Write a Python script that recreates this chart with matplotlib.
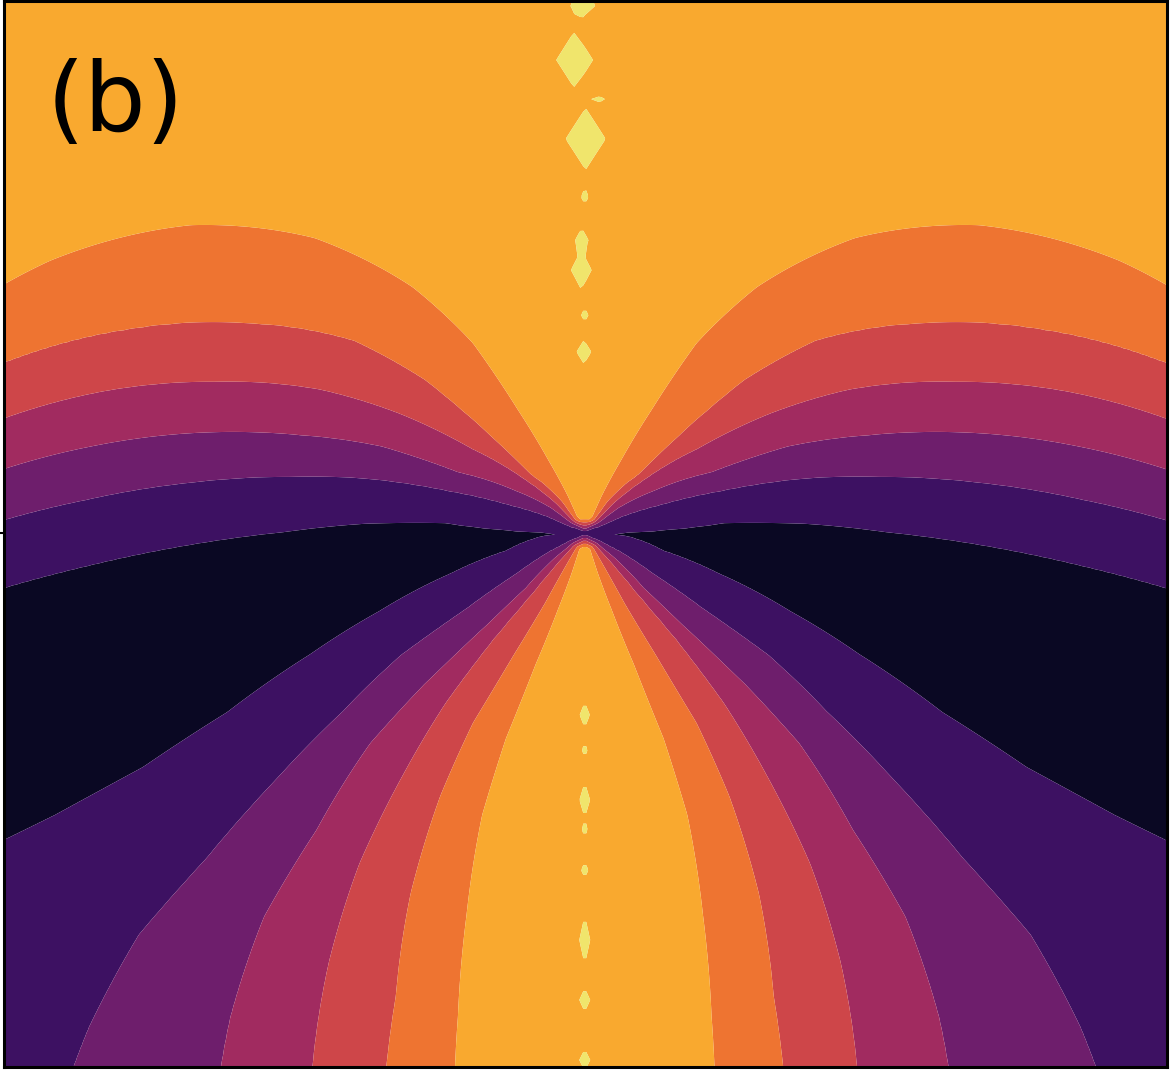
import numpy as np
import matplotlib
matplotlib.use("Agg")
import matplotlib.pyplot as plt

# ---------------- data ----------------
# radii (data units) at which the band-boundary angles were read
radii = [16, 40, 80, 140, 220, 300, 400, 500, 600, 700, 820]

# angle (deg, measured from the upward vertical) of each band boundary
# "vK" = boundary between band K-1 and band K
upper_v6 = [24.5, 24.5, 26.5, 28.5, 30.5, 35.0, 42.5, 52.0, 63.0, 75.0, 86.0]
upper_v5 = [36.0, 36.0, 43.0, 44.2, 46.2, 50.2, 58.4, 66.0, 73.3, 80.0, 88.0]
upper_v4 = [44.0, 44.0, 48.0, 53.2, 57.2, 61.5, 67.8, 73.5, 79.3, 84.0, 90.0]
upper_v3 = [53.0, 53.0, 58.5, 64.4, 66.9, 71.0, 75.5, 80.0, 84.4, 88.0, 92.0]
upper_v2 = [66.0, 66.0, 69.5, 72.7, 75.8, 79.2, 82.8, 86.2, 89.3, 92.0, 95.0]
upper_v1 = [92.0, 90.0, 88.2, 86.0, 87.6, 89.8, 91.8, 93.8, 95.7, 97.5, 99.0]
lower_v1 = [92.0, 93.5, 102.4, 106.7, 110.8, 113.8, 116.6, 117.9, 118.0, 117.7, 117.5]
lower_v2 = [118.0, 118.0, 120.8, 122.6, 123.6, 126.4, 128.7, 130.7, 132.0, 134.9, 139.0]
lower_v3 = [130.0, 130.0, 133.2, 133.2, 133.3, 134.4, 137.9, 140.1, 143.8, 148.0, 152.0]
lower_v4 = [138.0, 138.0, 139.0, 139.3, 140.7, 143.0, 145.7, 149.2, 153.0, 156.5, 160.0]
lower_v5 = [150.0, 150.0, 150.5, 149.8, 149.5, 151.2, 154.2, 157.8, 160.4, 163.0, 166.0]
lower_v6 = [162.0, 162.0, 160.7, 159.5, 159.0, 160.0, 162.8, 165.3, 167.4, 169.5, 172.0]

# value in the darkest band (between the two v1 boundaries) per radius
v_min = [1.0, 0.9, 0.4, 0.1, 0.0, 0.0, 0.0, 0.0, 0.0, 0.0, 0.0]
v_axis = 6.8      # value along the vertical axis
v_centre = 1.5    # value at the source point

# small bright patches along the vertical axis (centre x, centre y, half sizes)
blob_x = [-2, -11, 15, 1, 0, -3, -4, 0, -1, 0, 0, 0, 0, 0, 0, 0, 0]
blob_y = [528, 473, 434, 394, 336, 293, 263, 218, 181,
          -182, -217, -267, -297, -337, -407, -467, -527]
blob_w = [28, 40, 12, 46, 8, 14, 24, 8, 18, 12, 6, 12, 6, 8, 12, 12, 12]
blob_h = [24, 58, 6, 62, 14, 24, 40, 14, 24, 26, 16, 36, 14, 16, 50, 24, 22]
blob_amp = 0.4

levels = [0, 1, 2, 3, 4, 5, 6, 7, 8]
band_colors = ["#0a0823", "#3d1162", "#6e1e6c", "#a12b60",
               "#ce4649", "#ee7431", "#f9a92f", "#f0e56c"]
label = "(b)"

# ---------------- build the field ----------------
xg = np.linspace(-584, 584, 390)
yg = np.linspace(-536, 536, 358)
X, Y = np.meshgrid(xg, yg)
R = np.hypot(X, Y)
TH = np.degrees(np.arctan2(np.abs(X), Y))
Rc = np.clip(R, radii[0], radii[-1])

def at(row):
    return np.interp(Rc, radii, row)

u6, u5 = at(upper_v6), at(upper_v5)
l6, l5 = at(lower_v6), at(lower_v5)
up1 = at(upper_v1)
lo1 = at(lower_v1)
node_ang = [np.zeros_like(R), u6 - 0.5 * (u5 - u6), u6, u5, at(upper_v4),
            at(upper_v3), at(upper_v2), up1, 0.5 * (up1 + lo1), lo1,
            at(lower_v2), at(lower_v3), at(lower_v4), l5, l6,
            np.minimum(l6 + 0.5 * (l6 - l5), 179.0), np.full_like(R, 180.0)]
vm = at(v_min)
node_val = [v_axis, 6.5, 6, 5, 4, 3, 2, 1, vm, 1, 2, 3, 4, 5, 6, 6.5, v_axis]
node_val = [np.broadcast_to(np.asarray(v, float), R.shape) for v in node_val]

V = np.zeros_like(R)
for i in range(len(node_ang) - 1):
    a0, a1 = node_ang[i], node_ang[i + 1]
    v0, v1 = node_val[i], node_val[i + 1]
    m = (TH >= a0) & (TH <= a1)
    da = np.maximum(a1 - a0, 1e-9)
    V[m] = (v0 + (v1 - v0) * (TH - a0) / da)[m]

inner = R < radii[0]
V[inner] = v_centre + (R[inner] / radii[0]) * (V[inner] - v_centre)

for bx, by, bw, bh in zip(blob_x, blob_y, blob_w, blob_h):
    s = np.abs(X - bx) / bw + np.abs(Y - by) / bh
    V += blob_amp * np.clip(1 - s, 0, None)

V = np.clip(V, 0.001, 7.99)

# ---------------- draw ----------------
fig = plt.figure(figsize=(11.7, 10.7), dpi=100)
ax = fig.add_axes([3.5 / 1170, 3 / 1070, 1163.5 / 1170, 1066 / 1070])
ax.contourf(xg, yg, V, levels=levels, colors=band_colors, antialiased=True)
ax.set_xlim(-581.5, 582.5)
ax.set_ylim(-534, 532)
ax.set_xticks([])
ax.set_yticks([0])
ax.tick_params(axis="y", labelleft=False, length=5, width=1.5, direction="out")
for sp in ax.spines.values():
    sp.set_linewidth(2.2)
ax.text(0.037, 0.878, label, transform=ax.transAxes, fontsize=70,
        family="DejaVu Sans", va="baseline", ha="left", color="black")
fig.savefig("out.png", dpi=100)
